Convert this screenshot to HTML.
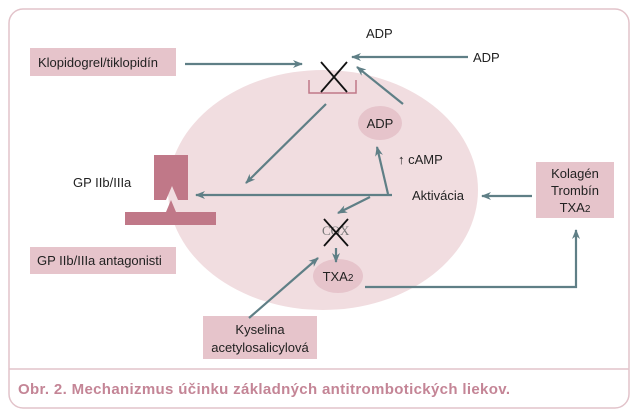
<!DOCTYPE html>
<html><head><meta charset="utf-8"><style>
body{margin:0;background:#fff;}
svg{display:block;font-family:"Liberation Sans",sans-serif;}
</style></head><body>
<svg width="640" height="417" viewBox="0 0 640 417">
<defs>
<marker id="a" markerWidth="10" markerHeight="8" refX="9" refY="4" orient="auto" markerUnits="userSpaceOnUse">
<path d="M0,0 L10,4 L0,8 L3,4 Z" fill="#5f7f86"/></marker>
</defs>
<rect x="9" y="9" width="620" height="399" rx="14" fill="#fff" stroke="#e2c3ca" stroke-width="1.5"/>
<line x1="9" y1="369" x2="629" y2="369" stroke="#e2c3ca" stroke-width="1.5"/>
<text x="18" y="394" font-size="15" font-weight="bold" fill="#c48596" textLength="492">Obr. 2. Mechanizmus účinku základných antitrombotických liekov.</text>
<ellipse cx="323" cy="190" rx="155" ry="120" fill="#f1dde0"/>
<g fill="#e6c4cb">
<rect x="30" y="48" width="146" height="28"/>
<rect x="30" y="247" width="146" height="27"/>
<rect x="203" y="316" width="114" height="43"/>
<rect x="536" y="162" width="78" height="56"/>
</g>
<ellipse cx="380" cy="123" rx="22" ry="17" fill="#e6c4cb"/>
<ellipse cx="338" cy="276" rx="25" ry="17" fill="#e6c4cb"/>
<g font-size="13" fill="#222">
<text x="38" y="67">Klopidogrel/tiklopidín</text>
<text x="37" y="265">GP IIb/IIIa antagonisti</text>
<text x="260" y="334" text-anchor="middle">Kyselina</text>
<text x="260" y="352" text-anchor="middle">acetylosalicylová</text>
<text x="575" y="178" text-anchor="middle">Kolagén</text>
<text x="575" y="195" text-anchor="middle">Trombín</text>
<text x="575" y="212" text-anchor="middle">TXA<tspan font-size="10">2</tspan></text>
<text x="380" y="128" text-anchor="middle">ADP</text>
<text x="338" y="281" text-anchor="middle">TXA<tspan font-size="10">2</tspan></text>
<text x="366" y="38">ADP</text>
<text x="473" y="62">ADP</text>
<text x="73" y="187">GP IIb/IIIa</text>
<text x="412" y="200">Aktivácia</text>
<text x="398" y="164">↑ cAMP</text>
<text x="322" y="235" font-family="Liberation Serif,serif" fill="#777">COX</text>
</g>
<path d="M154,155 H188 V200 H178 L172,186 L166,200 H154 Z" fill="#c07888"/>
<path d="M125,212 H166 L171,200 L176,212 H216 V225 H125 Z" fill="#c07888"/>
<path d="M309,80 V93 H356 V80" fill="none" stroke="#c07888" stroke-width="1.5"/>
<g stroke="#111" stroke-width="1.8"><line x1="321" y1="62" x2="347" y2="92"/><line x1="347" y1="62" x2="321" y2="92"/>
<line x1="324" y1="219" x2="348" y2="246"/><line x1="348" y1="219" x2="324" y2="246"/></g>
<g stroke="#5f7f86" stroke-width="2.2" fill="none" marker-end="url(#a)">
<line x1="185" y1="64" x2="302" y2="64"/>
<line x1="468" y1="57" x2="352" y2="57"/>
<line x1="403" y1="104" x2="357" y2="67"/>
<line x1="326" y1="104" x2="246" y2="183"/>
<line x1="392" y1="195" x2="196" y2="195"/>
<line x1="388" y1="194" x2="377" y2="147"/>
<line x1="370" y1="197" x2="338" y2="213"/>
<line x1="336" y1="248" x2="336" y2="262"/>
<line x1="249" y1="318" x2="318" y2="258"/>
<line x1="532" y1="196" x2="482" y2="196"/>
<polyline points="365,287 576,287 576,230"/>
</g>
</svg>
</body></html>
